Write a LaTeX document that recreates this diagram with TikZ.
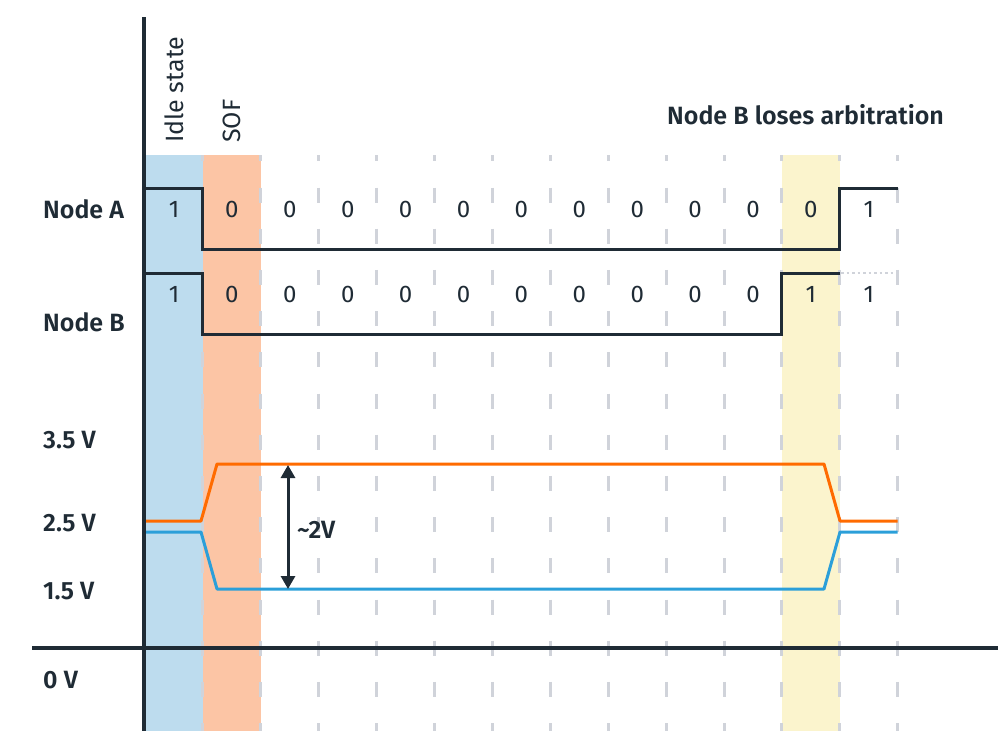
\documentclass[tikz,border=0pt]{standalone}
\usepackage{fontspec}
\setmainfont{Fira Sans}
\newfontfamily\semib{Fira Sans SemiBold}
\usetikzlibrary{arrows.meta}
\definecolor{ink}{HTML}{1F2B35}
\definecolor{bandblue}{HTML}{BDDCEE}
\definecolor{bandorange}{HTML}{FCC5A5}
\definecolor{bandyellow}{HTML}{FBF4CD}
\definecolor{gridgray}{HTML}{D0D3DA}
\definecolor{hline}{HTML}{FF6B00}
\definecolor{lline}{HTML}{2B9FD9}
\begin{document}
\begin{tikzpicture}[x=1pt,y=-1pt,
  lab/.style={font=\semib\fontsize{25}{29}\selectfont, text=ink, anchor=base west, inner sep=0pt},
  bit/.style={font=\fontsize{24}{28}\selectfont, text=ink, anchor=base, inner sep=0pt},
  rot/.style={font=\fontsize{25}{29}\selectfont, text=ink, anchor=base west, rotate=90, inner sep=0pt},
  gridline/.style={gridgray, line width=3pt, dash pattern=on 15pt off 26.2pt, dash phase=8.7pt},
  sig/.style={ink, line width=3pt, line join=miter},
  axis/.style={ink, line width=4pt},
  volt/.style={line width=3pt, line join=round}]
\useasboundingbox (0,0) rectangle (1006,731);
% bands
\fill[bandblue] (145,155) rectangle (202.9,731);
\fill[bandorange] (202.9,155) rectangle (260.8,731);
\fill[bandyellow] (781.9,155) rectangle (839.8,731);
% grid
\foreach \k in {1,...,13}{
  \pgfmathsetmacro{\gx}{145+57.9*\k}
  \draw[gridline] (\gx,155) -- (\gx,731);
}
% column labels
\node[rot] (idle) at (183,143) {Idle state};
\node[rot] (sof) at (240,143) {SOF};
\node[lab] (lose) at (667,124) {Node B loses arbitration};
% row labels
\node[lab] (na) at (43,218) {Node A};
\node[lab] (nb) at (43,331) {Node B};
\node[lab] (v35) at (43,448) {3.5 V};
\node[lab] (v25) at (43,531) {2.5 V};
\node[lab] (v15) at (43,599) {1.5 V};
\node[lab] (v0) at (43,688) {0 V};
% bits node A
\foreach \b [count=\i from 0] in {1,0,0,0,0,0,0,0,0,0,0,0,1}{
  \pgfmathsetmacro{\cx}{174+57.9*\i}
  \node[bit] (a\i) at (\cx,217.5) {\b};
}
\foreach \b [count=\i from 0] in {1,0,0,0,0,0,0,0,0,0,0,1,1}{
  \pgfmathsetmacro{\cx}{174+57.9*\i}
  \node[bit] (b\i) at (\cx,302.5) {\b};
}
% node A signal
\draw[sig] (145,188) -- (202.9,188) -- (202.9,249) -- (839.8,249) -- (839.8,188) -- (897.7,188);
% node B signal
\draw[sig] (145,273) -- (202.9,273) -- (202.9,334) -- (781.9,334) -- (781.9,273) -- (839.8,273);
\draw[gridgray, line width=2pt, dash pattern=on 2.5pt off 3pt] (841,273) -- (897.7,273);
% bus voltages
\draw[volt, hline] (145,521) -- (201,521) -- (217,464) -- (824,464) -- (840,521) -- (897.7,521);
\draw[volt, lline] (145,532) -- (201,532) -- (217,589) -- (824,589) -- (840,532) -- (897.7,532);
% differential arrow
\coordinate (dtop) at (288,465);
\coordinate (dbot) at (288,589);
\draw[ink, line width=3pt, {Triangle[width=14pt,length=13pt]}-{Triangle[width=14pt,length=13pt]}] (dtop) -- (dbot);
\node[font=\semib\fontsize{25}{29}\selectfont, text=ink, anchor=base west, inner sep=0pt] (dv) at (297,538) {\char"7E 2V};
% axes
\draw[axis] (143.5,17) -- (143.5,731);
\draw[axis] (32,648) -- (998,648);
\end{tikzpicture}
\end{document}
